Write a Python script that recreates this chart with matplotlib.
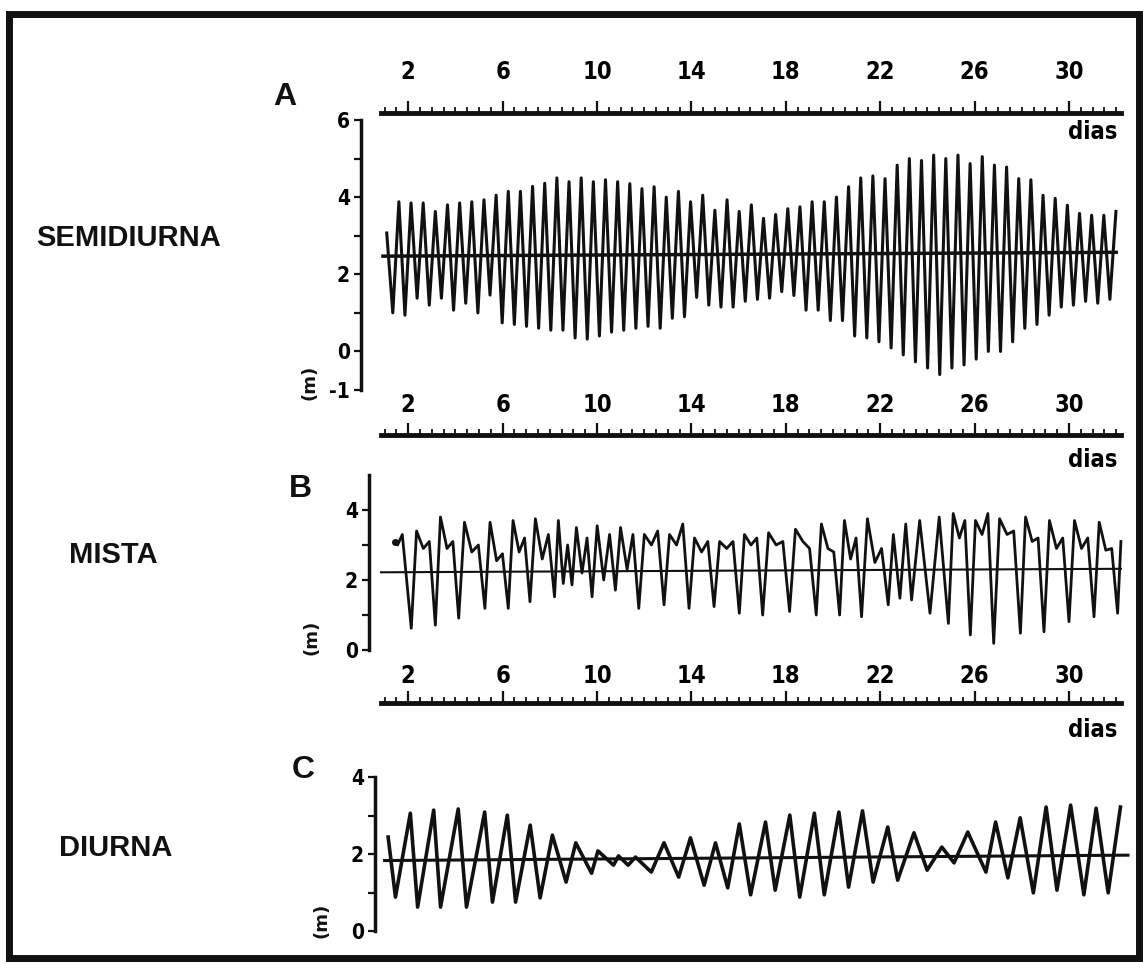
import matplotlib
matplotlib.use("Agg")
import matplotlib.pyplot as plt
from matplotlib.patches import Rectangle
from matplotlib.ticker import MultipleLocator, FixedLocator
from matplotlib.font_manager import FontProperties
import numpy as np

# ---------------- data ----------------
dias_ticks = [2, 6, 10, 14, 18, 22, 26, 30]

# A - semidiurna: alternating high / low waters (m)
semi_start = 1.09
semi_period = 0.515
semi_highs = [3.07, 3.88, 3.85, 3.85, 3.63, 3.8, 3.85, 3.88, 3.93, 4.05, 4.15,
              4.15, 4.28, 4.36, 4.5, 4.4, 4.5, 4.4, 4.45, 4.4, 4.35,
              4.22, 4.27, 4.0, 4.15, 3.88, 4.05, 3.66, 3.93, 3.63, 3.8,
              3.45, 3.55, 3.7, 3.75, 3.88, 3.88, 4.0, 4.27, 4.5, 4.55,
              4.48, 4.83, 5.0, 4.95, 5.09, 5.0, 5.09, 4.87, 5.05, 4.83,
              4.78, 4.48, 4.45, 4.05, 3.97, 3.79, 3.58, 3.53, 3.53, 3.63]
semi_lows = [1.0, 0.94, 1.38, 1.2, 1.38, 1.07, 1.25, 1.0, 1.46, 0.74,
             0.7, 0.65, 0.6, 0.55, 0.55, 0.35, 0.32, 0.4, 0.5, 0.55,
             0.6, 0.65, 0.6, 0.86, 0.9, 1.4, 1.2, 1.15, 1.15, 1.3,
             1.35, 1.38, 1.55, 1.45, 1.07, 1.07, 0.8, 0.8, 0.4,
             0.35, 0.25, 0.09, -0.09, -0.27, -0.43, -0.6, -0.43, -0.35, -0.2,
             0.0, 0.0, 0.25, 0.6, 0.7, 0.94, 1.15, 1.2, 1.3, 1.25, 1.35]
semi_mean_days = [0.93, 32.0]
semi_mean = [2.47, 2.57]

# B - mista: record start, then per day: deep low, high, minor low, high
mixed_start_days = [1.44, 1.55, 1.75]
mixed_start_vals = [3.1, 3.0, 3.3]
mixed_low_days = [2.13, 3.15, 4.14, 5.25, 6.24, 7.16, 8.2, 8.94, 9.79, 10.78,
                  11.77, 12.84, 13.9, 14.96, 16.03, 17.02, 18.16, 19.29, 20.28,
                  21.21, 22.34, 23.33, 24.89, 25.82, 26.81, 27.94, 28.94, 30.0,
                  31.06, 32.06]
mixed_lows = [0.62, 0.71, 0.91, 1.19, 1.19, 1.38, 1.52, 1.86, 1.52, 1.71,
              1.19, 1.29, 1.19, 1.24, 1.05, 1.0, 1.1, 1.0, 1.0, 0.95,
              1.29, 1.43, 0.76, 0.43, 0.19, 0.48, 0.52, 0.81, 0.95, 1.05]
mixed_high1 = [3.4, 3.8, 3.65, 3.65, 3.7, 3.75, 3.7, 3.5, 3.55, 3.5,
               3.3, 3.3, 3.2, 3.1, 3.3, 3.35, 3.45, 3.6, 3.7, 3.75,
               3.3, 3.7, 3.9, 3.7, 3.75, 3.8, 3.7, 3.7, 3.65]
mixed_minor = [2.9, 2.9, 2.8, 2.55, 2.8, 2.6, 1.9, 2.2, 2.0, 2.3,
               3.0, 3.0, 2.8, 2.9, 3.0, 3.0, 3.1, 2.9, 2.6, 2.5,
               1.48, 1.05, 3.2, 3.3, 3.3, 3.1, 2.9, 2.9, 2.85]
mixed_high2 = [3.1, 3.1, 3.0, 2.75, 3.2, 3.3, 3.0, 3.2, 3.3, 3.3,
               3.4, 3.6, 3.1, 3.1, 3.2, 3.1, 2.9, 2.8, 3.2, 2.9,
               3.6, 3.8, 3.7, 3.9, 3.4, 3.2, 3.2, 3.2, 2.9]
mixed_end_day = 32.2
mixed_end_val = 3.1
mixed_mean_days = [0.85, 32.2]
mixed_mean = [2.22, 2.32]

# C - diurna: high and low waters
diurnal_high_days = [1.15, 2.09, 3.08, 4.12, 5.24, 6.2, 7.17, 8.11, 9.1, 10.04,
                     10.91, 11.63, 12.84, 13.96, 15.02, 16.03, 17.14, 18.17,
                     19.21, 20.25, 21.25, 22.32, 23.43, 24.61, 25.71, 26.89,
                     27.93, 29.03, 30.07, 31.15, 32.18]
diurnal_highs = [2.44, 3.06, 3.14, 3.17, 3.09, 3.01, 2.75, 2.49, 2.29, 2.08,
                 1.95, 1.92, 2.29, 2.42, 2.29, 2.78, 2.83, 3.01, 3.06, 3.09,
                 3.12, 2.7, 2.55, 2.18, 2.57, 2.83, 2.94, 3.22, 3.27, 3.19, 3.22]
diurnal_low_days = [1.46, 2.4, 3.37, 4.47, 5.57, 6.55, 7.59, 8.69, 9.77, 10.7,
                    11.32, 12.3, 13.46, 14.54, 15.54, 16.51, 17.55, 18.59,
                    19.63, 20.66, 21.7, 22.74, 23.99, 25.13, 26.48, 27.41,
                    28.49, 29.49, 30.63, 31.66]
diurnal_lows = [0.88, 0.62, 0.62, 0.62, 0.75, 0.75, 0.86, 1.27, 1.5, 1.71,
                1.71, 1.53, 1.4, 1.19, 1.12, 0.94, 1.06, 0.88, 0.94, 1.14,
                1.27, 1.32, 1.58, 1.77, 1.53, 1.38, 0.99, 1.06, 0.94, 0.99]
diurnal_mean_days = [1.0, 32.5]
diurnal_mean = [1.83, 1.97]

# ---------------- layout helpers ----------------
W, H = 1143, 964
X0, PXDAY = 361, 23.6   # pixel of day 0, pixels per day
INK = "#111111"

tick_fp = FontProperties(family="DejaVu Sans", stretch="condensed",
                         weight="bold", size=17)
ytick_fp = FontProperties(family="DejaVu Sans", stretch="condensed",
                          weight="bold", size=15)

fig = plt.figure(figsize=(W / 100, H / 100), dpi=100)
fig.patch.set_facecolor("white")


def day(xpx):
    return (xpx - X0) / PXDAY


def add_ax(left, top, right, bottom):
    return fig.add_axes([left / W, 1 - bottom / H, (right - left) / W,
                         (bottom - top) / H])


def ftext(x, y, s, **kw):
    fig.text(x / W, 1 - y / H, s, **kw)


def dias_axis(y_px, pad):
    ax = add_ax(381, y_px - 0.05, 1121, y_px)
    ax.set_xlim(day(381), day(1121))
    ax.set_ylim(0, 1)
    for s in ["left", "right", "bottom"]:
        ax.spines[s].set_visible(False)
    ax.spines["top"].set_linewidth(3.5)
    ax.spines["top"].set_color(INK)
    ax.patch.set_visible(False)
    ax.xaxis.tick_top()
    ax.xaxis.set_major_locator(FixedLocator(dias_ticks))
    ax.xaxis.set_minor_locator(MultipleLocator(0.5))
    ax.tick_params(axis="x", which="major", direction="out", length=9,
                   width=1.6, pad=pad, color=INK)
    ax.tick_params(axis="x", which="minor", direction="out", length=4.5,
                   width=1.3, color=INK)
    ax.set_yticks([])
    for lbl in ax.get_xticklabels():
        lbl.set_fontproperties(tick_fp)
    return ax


def data_axis(left, top, bottom, ylim, major, minor):
    ax = add_ax(left, top, 1130, bottom)
    ax.set_xlim(day(left), day(1130))
    ax.set_ylim(*ylim)
    for s in ["top", "right", "bottom"]:
        ax.spines[s].set_visible(False)
    ax.spines["left"].set_linewidth(2.5)
    ax.spines["left"].set_color(INK)
    ax.patch.set_visible(False)
    ax.set_xticks([])
    ax.yaxis.set_major_locator(FixedLocator(major))
    ax.yaxis.set_minor_locator(FixedLocator(minor))
    ax.tick_params(axis="y", which="both", direction="out", length=5,
                   width=1.6, pad=3, color=INK)
    ax.set_yticklabels([str(v) for v in major])
    for lbl in ax.get_yticklabels():
        lbl.set_fontproperties(ytick_fp)
    return ax


# ---------------- panel A ----------------
dias_axis(113, 12)
axA = data_axis(361, 120, 390, (-1, 6), [6, 4, 2, 0, -1], [5, 3, 1])
semi_t, semi_v = [], []
for i, h in enumerate(semi_highs):
    semi_t.append(semi_start + i * semi_period)
    semi_v.append(h)
    if i < len(semi_lows):
        semi_t.append(semi_start + (i + 0.5) * semi_period)
        semi_v.append(semi_lows[i])
axA.plot(semi_t, semi_v, color=INK, lw=2.2, clip_on=False)
axA.plot(semi_mean_days, semi_mean, color=INK, lw=2.5, clip_on=False)

# ---------------- panel B ----------------
dias_axis(435, 4)
axB = data_axis(369, 475, 650, (0, 5), [4, 2, 0], [3, 1])
mix_t = list(mixed_start_days)
mix_v = list(mixed_start_vals)
for k in range(len(mixed_low_days)):
    mix_t.append(mixed_low_days[k])
    mix_v.append(mixed_lows[k])
    if k < len(mixed_high1):
        d = mixed_low_days[k + 1] - mixed_low_days[k]
        t0 = mixed_low_days[k]
        mix_t += [t0 + 0.22 * d, t0 + 0.5 * d, t0 + 0.75 * d]
        mix_v += [mixed_high1[k], mixed_minor[k], mixed_high2[k]]
mix_t.append(mixed_end_day)
mix_v.append(mixed_end_val)
axB.plot(mix_t, mix_v, color=INK, lw=2.0, clip_on=False)
axB.plot(mixed_mean_days, mixed_mean, color=INK, lw=1.5, clip_on=False)
axB.plot(mixed_start_days[0], mixed_start_vals[0], "o", ms=4, color=INK)

# ---------------- panel C ----------------
dias_axis(703, 1.5)
axC = data_axis(375, 777, 931, (0, 4), [4, 2, 0], [3, 1])
di_t = np.array(diurnal_high_days + diurnal_low_days)
di_v = np.array(diurnal_highs + diurnal_lows)
order = np.argsort(di_t)
axC.plot(di_t[order], di_v[order], color=INK, lw=2.6, clip_on=False)
axC.plot(diurnal_mean_days, diurnal_mean, color=INK, lw=2.2, clip_on=False)

# ---------------- labels ----------------
for y in (132, 460, 730):
    ftext(1117, y, "dias", ha="right", va="center", fontproperties=tick_fp)

for x, y, s in [(285, 97, "A"), (300, 489, "B"), (303, 770, "C")]:
    ftext(x, y, s, ha="center", va="center", fontsize=23, fontweight="bold",
          family="Liberation Sans", color=INK)

for x, y, s in [(129, 238, "SEMIDIURNA"), (113, 555, "MISTA"),
                (116, 848, "DIURNA")]:
    ftext(x, y, s, ha="center", va="center", fontsize=21, fontweight="bold",
          family="Liberation Sans", color=INK)

for x, y in [(310, 382), (312, 637), (321, 920)]:
    ftext(x, y, "(m)", ha="center", va="center", rotation=90, fontsize=13,
          fontweight="bold", family="DejaVu Sans", color=INK)

fig.patches.append(Rectangle((9 / W, 1 - 958 / H), (1139 - 9) / W,
                             (958 - 14) / H, transform=fig.transFigure,
                             fill=False, lw=5, ec=INK))

fig.savefig("out.png", dpi=100, facecolor="white")
